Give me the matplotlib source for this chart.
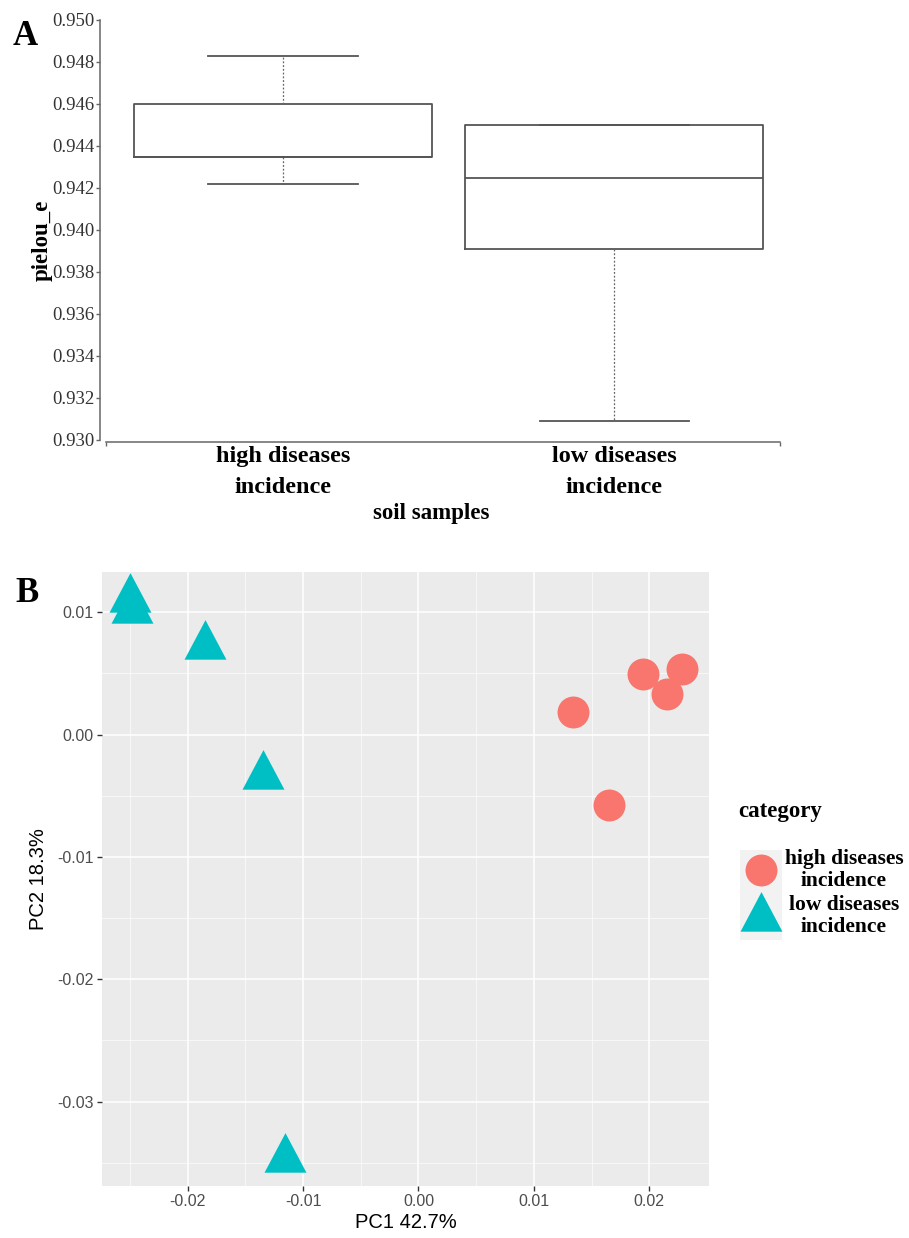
import numpy as np
import matplotlib
matplotlib.use("Agg")
import matplotlib.pyplot as plt

# panel A - pielou_e boxplot summaries
groups = ["high diseases\nincidence", "low diseases\nincidence"]
whislo = [0.9422, 0.9309]
q1 = [0.9435, 0.9391]
med = [0.9435, 0.9425]
q3 = [0.9460, 0.9450]
whishi = [0.9483, 0.9450]
yticks_a = [0.930, 0.932, 0.934, 0.936, 0.938, 0.940, 0.942, 0.944, 0.946, 0.948, 0.950]

# panel B - PCoA points
high_pc1 = [0.01342, 0.01948, 0.02151, 0.02281, 0.01651]
high_pc2 = [0.00183, 0.00494, 0.00333, 0.00535, -0.00575]
low_pc1 = [-0.02504, -0.02485, -0.01847, -0.01351, -0.01157]
low_pc2 = [0.01108, 0.01018, 0.00725, -0.00342, -0.03465]
xticks_b = [-0.02, -0.01, 0.00, 0.01, 0.02]
yticks_b = [-0.03, -0.02, -0.01, 0.00, 0.01]
categories = ["high diseases\nincidence", "low diseases\nincidence"]

SERIF = "Liberation Serif"
SANS = "Liberation Sans"
W, H = 909, 1238
RED = "#F8766D"
TEAL = "#00BFC4"
tri = [(0, 1), (-0.795, -0.5), (0.795, -0.5)]  # triangle centred on centroid like R pch 17


def fx(px):
    return px / W


def fy(py):
    return 1 - py / H


fig = plt.figure(figsize=(W / 100, H / 100), dpi=100)

# ---------------- panel A ----------------
axA = fig.add_axes([fx(106), fy(440), fx(674), 420 / H])
stats = []
for i in range(len(groups)):
    stats.append(dict(whislo=whislo[i], q1=q1[i], med=med[i], q3=q3[i], whishi=whishi[i], fliers=[]))
line_c = "#555555"
axA.bxp(stats, positions=[1, 2], widths=0.9, capwidths=0.45, showfliers=False, manage_ticks=False,
        boxprops=dict(color=line_c, lw=1.3),
        whiskerprops=dict(color="#666666", lw=0.9, ls=(0, (1.5, 1.5))),
        capprops=dict(color=line_c, lw=1.3),
        medianprops=dict(color=line_c, lw=1.3))
axA.set_xlim(0.466, 2.5)
axA.set_ylim(0.930, 0.950)
for s in ["top", "right"]:
    axA.spines[s].set_visible(False)
axA.spines["left"].set_position(("outward", 4.3))
axA.spines["bottom"].set_position(("outward", 1.2))
for s in ["left", "bottom"]:
    axA.spines[s].set_color("#666666")
    axA.spines[s].set_linewidth(1.1)
axA.set_yticks(yticks_a)
axA.set_yticklabels(["%.3f" % v for v in yticks_a], fontfamily=SERIF, fontsize=13.5, color="#333333")
axA.tick_params(axis="y", length=3, width=1, color="#666666", pad=0.8)
axA.set_xticks([1, 2])
axA.set_xticklabels(groups, fontfamily=SERIF, fontsize=17.5, fontweight="bold", linespacing=1.62)
axA.tick_params(axis="x", length=0, pad=3)
axA.set_xticks([0.466, 2.5], minor=True)
axA.tick_params(axis="x", which="minor", length=3, width=1, color="#666666")

fig.text(fx(42), fy(240), "pielou_e", rotation=90, ha="center", va="center",
         fontfamily=SERIF, fontsize=16.5, fontweight="bold")
fig.text(fx(431), fy(519), "soil samples", ha="center", va="baseline",
         fontfamily=SERIF, fontsize=16.5, fontweight="bold")
fig.text(fx(13), fy(45), "A", ha="left", va="baseline", fontfamily=SERIF, fontsize=25, fontweight="bold")

# ---------------- panel B ----------------
axB = fig.add_axes([fx(101.7), fy(1185.7), fx(607.6), 614 / H])
axB.set_facecolor("#EBEBEB")
axB.set_xlim(-0.02745, 0.0252)
axB.set_ylim(-0.03687, 0.01332)
axB.set_xticks(xticks_b)
axB.set_xticklabels(["%.2f" % v for v in xticks_b])
axB.set_yticks(yticks_b)
axB.set_yticklabels(["%.2f" % v for v in yticks_b])
axB.set_xticks([-0.025, -0.015, -0.005, 0.005, 0.015], minor=True)
axB.set_yticks([-0.035, -0.025, -0.015, -0.005, 0.005], minor=True)
axB.grid(which="major", color="white", lw=1.1)
axB.grid(which="minor", color="white", lw=0.55, alpha=0.8)
axB.set_axisbelow(True)
for s in axB.spines.values():
    s.set_visible(False)
axB.tick_params(which="major", length=3.5, width=1, color="#333333", pad=2.5,
                labelcolor="#4D4D4D", labelsize=11.5)
axB.tick_params(which="minor", length=0)
for lab in axB.get_xticklabels() + axB.get_yticklabels():
    lab.set_fontfamily(SANS)

axB.plot(low_pc1, low_pc2, ls="none", marker=tri, markersize=38, color=TEAL, mew=0, clip_on=False)
axB.plot(high_pc1, high_pc2, ls="none", marker="o", markersize=23, color=RED, mew=0)

fig.text(fx(405.5), fy(1222), "PC1 42.7%", ha="center", va="center", fontfamily=SANS, fontsize=14.5)
fig.text(fx(39), fy(878.7), "PC2 18.3%", rotation=90, ha="center", va="center", fontfamily=SANS, fontsize=14.5)
fig.text(fx(15), fy(602), "B", ha="left", va="baseline", fontfamily=SERIF, fontsize=25, fontweight="bold")

# legend drawn by hand (ggplot style key)
fig.text(fx(738), fy(812), "category", ha="left", va="center",
         fontfamily=SERIF, fontsize=16.5, fontweight="bold")
axL = fig.add_axes([fx(740), fy(940), fx(42), 90 / H])
axL.set_facecolor("#F2F2F2")
axL.set_xlim(0, 1)
axL.set_ylim(0, 1)
axL.set_xticks([])
axL.set_yticks([])
for s in axL.spines.values():
    s.set_visible(False)
axL.plot([0.5], [0.778], ls="none", marker="o", markersize=23, color=RED, mew=0, clip_on=False)
axL.plot([0.5], [0.24], ls="none", marker=tri, markersize=38, color=TEAL, mew=0, clip_on=False)
for lab, yy in zip(categories, [870, 916]):
    fig.text(fx(844), fy(yy), lab, ha="center", va="center", multialignment="center",
             fontfamily=SERIF, fontsize=15.5, fontweight="bold", linespacing=1.1)

fig.savefig("out.png", dpi=100)
